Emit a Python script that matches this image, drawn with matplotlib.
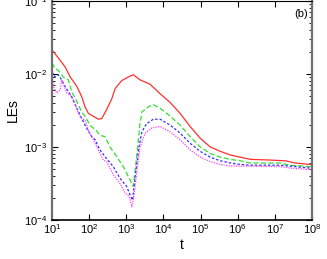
import matplotlib
matplotlib.use("Agg")
import matplotlib.pyplot as plt
import numpy as np

plt.rcParams['font.family'] = ['Liberation Sans', 'DejaVu Sans']

# values, as log10(t) and log10(LE)
red_logt = [1.00, 1.17, 1.35, 1.49, 1.67, 1.80, 1.89, 1.98, 2.11, 2.25, 2.34, 2.47, 2.61, 2.70,
            2.88, 3.06, 3.19, 3.37, 3.64, 3.91, 4.18, 4.45, 4.72, 4.99, 5.26, 5.53, 5.80, 6.07,
            6.34, 6.88, 7.28, 7.55, 7.95, 8.00]
red_logy = [-1.67, -1.78, -1.90, -2.04, -2.17, -2.31, -2.45, -2.54, -2.58, -2.62, -2.61, -2.49,
            -2.34, -2.20, -2.09, -2.04, -2.01, -2.08, -2.14, -2.27, -2.39, -2.54, -2.72, -2.88,
            -3.00, -3.06, -3.11, -3.14, -3.17, -3.18, -3.19, -3.22, -3.24, -3.24]

green_logt = [1.00, 1.08, 1.17, 1.30, 1.44, 1.53, 1.67, 1.80, 1.89, 2.02, 2.20, 2.29, 2.43, 2.56,
              2.74, 2.92, 3.06, 3.19, 3.28, 3.37, 3.42, 3.60, 3.73, 3.91, 4.14, 4.45, 4.72, 4.99,
              5.26, 5.53, 5.80, 6.07, 6.34, 7.15, 7.41, 7.95, 8.00]
green_logy = [-1.85, -1.92, -1.95, -2.04, -2.08, -2.24, -2.38, -2.52, -2.58, -2.70, -2.78, -2.84,
              -2.86, -3.00, -3.13, -3.27, -3.41, -3.54, -3.13, -2.68, -2.52, -2.45, -2.42, -2.47,
              -2.56, -2.70, -2.86, -3.00, -3.09, -3.14, -3.17, -3.19, -3.22, -3.22, -3.25, -3.27,
              -3.27]

blue_logt = [1.00, 1.08, 1.17, 1.26, 1.35, 1.53, 1.67, 1.80, 1.93, 2.07, 2.16, 2.29, 2.47, 2.65,
             2.83, 3.01, 3.12, 3.17, 3.24, 3.33, 3.42, 3.55, 3.73, 3.91, 4.18, 4.45, 4.72, 4.99,
             5.26, 5.53, 5.80, 6.07, 6.34, 7.15, 7.95, 8.00]
blue_logy = [-1.97, -2.04, -2.01, -2.08, -2.17, -2.31, -2.47, -2.61, -2.74, -2.86, -2.90, -3.04,
             -3.16, -3.27, -3.43, -3.54, -3.68, -3.73, -3.41, -3.04, -2.79, -2.68, -2.62, -2.62,
             -2.70, -2.81, -2.95, -3.06, -3.14, -3.19, -3.22, -3.24, -3.25, -3.25, -3.29, -3.29]

magenta_logt = [1.00, 1.06, 1.13, 1.22, 1.26, 1.30, 1.40, 1.49, 1.62, 1.71, 1.80, 1.89, 1.98,
                2.07, 2.16, 2.38, 2.47, 2.65, 2.83, 2.97, 3.08, 3.15, 3.19, 3.28, 3.37, 3.51,
                3.69, 3.91, 4.18, 4.45, 4.72, 4.99, 5.26, 5.53, 5.80, 7.15, 7.41, 7.95, 8.00]
magenta_logy = [-2.04, -2.20, -2.26, -2.22, -2.08, -2.13, -2.26, -2.29, -2.40, -2.54, -2.61,
                -2.63, -2.77, -2.86, -2.95, -3.18, -3.20, -3.38, -3.50, -3.63, -3.68, -3.82,
                -3.73, -3.36, -3.00, -2.81, -2.74, -2.72, -2.79, -2.90, -3.04, -3.14, -3.20,
                -3.24, -3.26, -3.27, -3.29, -3.31, -3.31]

fig = plt.figure(figsize=(3.27, 2.59), dpi=100)
ax = fig.add_axes([0.159, 0.151, 0.795, 0.845])

ax.plot(10 ** np.array(red_logt), 10 ** np.array(red_logy), color='#ff3030', lw=0.9, ls='-')
ax.plot(10 ** np.array(green_logt), 10 ** np.array(green_logy), color='#30e030', lw=0.9,
        ls=(0, (4, 2)))
ax.plot(10 ** np.array(blue_logt), 10 ** np.array(blue_logy), color='#3030ff', lw=0.9,
        ls=(0, (2, 1.5)))
ax.plot(10 ** np.array(magenta_logt), 10 ** np.array(magenta_logy), color='#ff40ff', lw=0.9,
        ls=(0, (1, 1)))

ax.set_xscale('log')
ax.set_yscale('log')
ax.set_xlim(1e1, 1e8)
ax.set_ylim(1e-4, 1e-1)
ax.set_xticks([10.0 ** k for k in range(1, 9)])
ax.set_yticks([10.0 ** k for k in range(-4, 0)])

ax.tick_params(which='both', direction='in', top=True, right=True, labelsize=8)
ax.tick_params(axis='x', pad=2)
ax.tick_params(which='major', length=4, width=0.8)
ax.tick_params(which='minor', length=2, width=0.6)

for side in ['left', 'right']:
    ax.spines[side].set_color('#707070')
    ax.spines[side].set_linewidth(1.6)
ax.spines['bottom'].set_linewidth(1.2)

ax.set_xlabel('t', fontsize=10, labelpad=1)
ax.set_ylabel('LEs', fontsize=10, labelpad=3)
ax.text(0.985, 0.965, '(b)', transform=ax.transAxes, ha='right', va='top', fontsize=8)

fig.savefig('out.png', dpi=100)
